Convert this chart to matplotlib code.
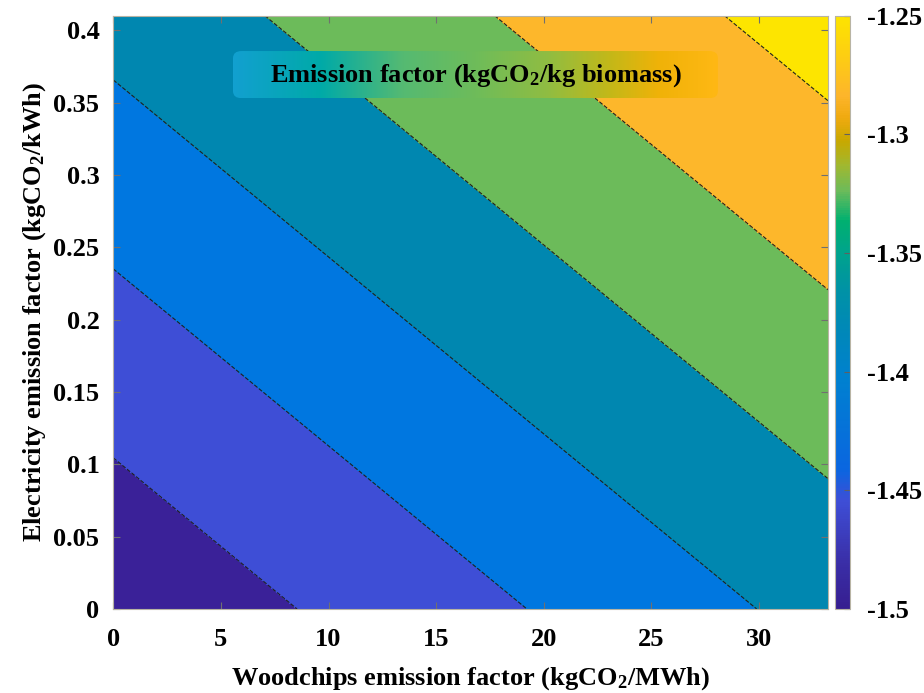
import numpy as np
import matplotlib
matplotlib.use('Agg')
import matplotlib.pyplot as plt
from matplotlib.colors import LinearSegmentedColormap, Normalize
from matplotlib.patches import FancyBboxPatch
import matplotlib.cm as cm

plt.rcParams['font.family'] = 'Liberation Serif'
plt.rcParams['font.weight'] = 'bold'
plt.rcParams['axes.unicode_minus'] = False
plt.rcParams['mathtext.fontset'] = 'custom'
plt.rcParams['mathtext.rm'] = 'Liberation Serif:bold'
plt.rcParams['mathtext.it'] = 'Liberation Serif:bold'
plt.rcParams['mathtext.bf'] = 'Liberation Serif:bold'

# corner values of the (planar) emission factor surface
woodchips = [0.0, 33.2]          # kgCO2/MWh
electricity = [0.0, 0.41]        # kgCO2/kWh
emission = [[-1.5, -1.3756],     # rows: electricity, cols: woodchips
            [-1.3744, -1.25]]
levels = [-1.51, -1.468, -1.428, -1.388, -1.348, -1.308, -1.268, -1.24]
cbar_ticks = [-1.5, -1.45, -1.4, -1.35, -1.3, -1.25]
xticks = [0, 5, 10, 15, 20, 25, 30]
yticks = [0, 0.05, 0.1, 0.15, 0.2, 0.25, 0.3, 0.35, 0.4]

band_colors = ['#3a2198', '#3e4ed6', '#0077e0', '#0087b0',
               '#6cbb5a', '#fdb72b', '#fde500']

cb_pos = [0.0, 0.08, 0.18, 0.235, 0.385, 0.47, 0.537, 0.605, 0.655,
          0.706, 0.748, 0.79, 0.83, 0.867, 0.94, 1.0]
cb_col = ['#361e90', '#3a2fa8', '#3e4ed6', '#0a66e0', '#0080d0', '#0088b8',
          '#0092a6', '#00a48a', '#00b070', '#6cbb5a', '#a0b830', '#c8a800',
          '#f0aa10', '#fdb52b', '#fdd010', '#fde400']
cbmap = LinearSegmentedColormap.from_list('cb', list(zip(cb_pos, cb_col)))

box_pos = [0.0, 0.18, 0.35, 0.5, 0.65, 0.78, 0.88, 1.0]
box_col = ['#12a0d0', '#00aaa8', '#55ba72', '#6ebc5a', '#90bd42',
           '#c4b818', '#f0b208', '#ffb814']
boxmap = LinearSegmentedColormap.from_list('box', list(zip(box_pos, box_col)))

X, Y = np.meshgrid(woodchips, electricity)
Z = np.array(emission)

fs = 19
fig = plt.figure(figsize=(9.24, 6.93), dpi=100)
ax = fig.add_axes([0.1226, 0.1212, 0.7735, 0.8561])
cax = fig.add_axes([0.9037, 0.1212, 0.0162, 0.8561])

ax.contourf(X, Y, Z, levels=levels, colors=band_colors)
ax.contour(X, Y, Z, levels=levels[1:-1], colors='#202020', linewidths=0.8)

ax.set_xticks(xticks)
ax.set_yticks(yticks)
ax.set_yticklabels(['0', '0.05', '0.1', '0.15', '0.2', '0.25', '0.3', '0.35', '0.4'])
frame = '#b8b4a4'
for s in ax.spines.values():
    s.set_color(frame)
    s.set_linewidth(0.8)
ax.tick_params(direction='in', length=5, width=0.8, color='#707070',
               top=True, right=True, labelsize=fs, pad=10)
ax.tick_params(axis='x', pad=14)
ax.set_xlabel('Woodchips emission factor (kgCO$_2$/MWh)', fontsize=fs,
              fontweight='bold', labelpad=10)
ax.set_ylabel('Electricity emission factor (kgCO$_2$/kWh)', fontsize=fs,
              fontweight='bold', labelpad=4)

# title box with soft gradient
bx0, bx1, by0, by1 = 0.1675, 0.846, 0.861, 0.9405
patch = FancyBboxPatch((bx0, by0), bx1 - bx0, by1 - by0,
                       boxstyle='round,pad=0,rounding_size=0.012',
                       transform=ax.transAxes, facecolor='none',
                       edgecolor='none')
ax.add_patch(patch)
grad = np.linspace(0, 1, 256).reshape(1, -1)
im = ax.imshow(grad, cmap=boxmap, aspect='auto', extent=[bx0, bx1, by0, by1],
               transform=ax.transAxes, zorder=3)
im.set_clip_path(patch)
ax.set_xlim(woodchips)
ax.set_ylim(electricity)
ax.text((bx0 + bx1) / 2, (by0 + by1) / 2 - 0.002,
        'Emission factor (kgCO$_2$/kg biomass)', transform=ax.transAxes,
        ha='center', va='center', fontsize=fs, fontweight='bold', zorder=4)

sm = cm.ScalarMappable(norm=Normalize(-1.5, -1.25), cmap=cbmap)
cb = fig.colorbar(sm, cax=cax, ticks=cbar_ticks)
cb.ax.set_yticklabels(['-1.5', '-1.45', '-1.4', '-1.35', '-1.3', '-1.25'])
cb.outline.set_edgecolor(frame)
cb.outline.set_linewidth(0.8)
cb.ax.tick_params(direction='in', length=4, width=0.8, color='#606060',
                  labelsize=fs, pad=12)

fig.savefig('out.png', dpi=100)
